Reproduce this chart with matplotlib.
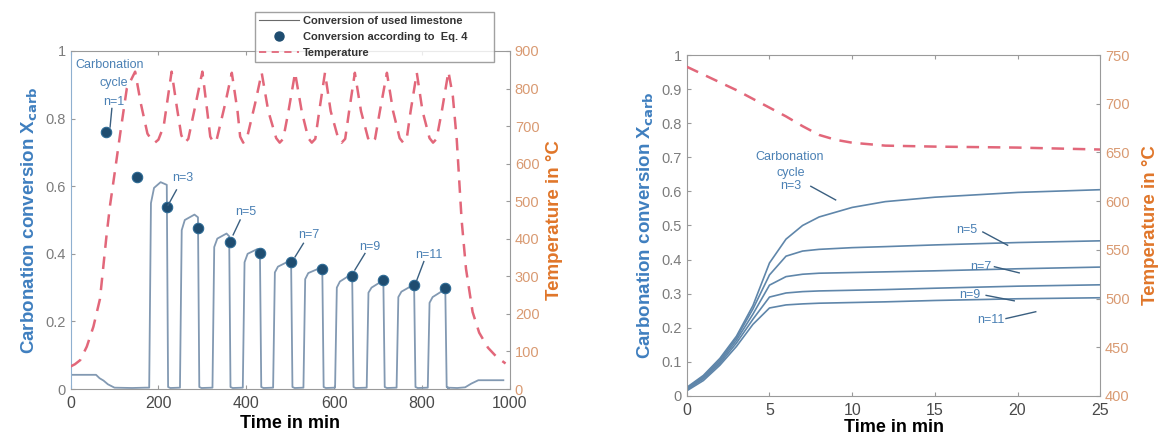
import matplotlib
matplotlib.use("Agg")
import matplotlib.pyplot as plt
from matplotlib.lines import Line2D

plt.rcParams["font.family"] = ["Liberation Sans", "DejaVu Sans"]

BLUE_LBL = "#3f7fbf"
ORANGE_LBL = "#e0762a"
TICK_GRAY = "#7c7c7c"
LINE_C = "#8299b2"
LINE_C2 = "#5f86aa"
DOT_C = "#1f4d70"
TEMP_C = "#e2677a"

# ---------------- left panel data ----------------
# conversion before the first visible cycle and after the last one
pre_t = [0, 58, 66, 75, 85, 100, 140, 170]
pre_v = [0.042, 0.042, 0.032, 0.025, 0.014, 0.004, 0.003, 0.004]
post_t = [858, 880, 898, 912, 928, 985]
post_v = [0.004, 0.003, 0.005, 0.016, 0.026, 0.026]

# carbonation cycles: rise start, steep rise, rounded shoulder, top, end of cycle
cyc_start = [179, 249, 323, 392, 461, 530, 602, 674, 742, 813]
cyc_knee_t = [183, 253, 327, 396, 465, 534, 606, 678, 746, 817]
cyc_knee_v = [0.55, 0.47, 0.42, 0.375, 0.345, 0.325, 0.30, 0.285, 0.272, 0.255]
cyc_sh_t = [190, 260, 334, 403, 472, 541, 613, 685, 753, 824]
cyc_sh_v = [0.595, 0.50, 0.445, 0.40, 0.362, 0.343, 0.318, 0.30, 0.288, 0.272]
cyc_top_t = [205, 282, 355, 425, 495, 566, 636, 706, 776, 846]
cyc_top_v = [0.612, 0.516, 0.46, 0.414, 0.377, 0.357, 0.337, 0.317, 0.305, 0.29]
cyc_end = [219, 290, 361, 431, 502, 573, 641, 712, 782, 853]

# conversion according to Eq. 4
eq4_t = [81, 151, 219, 291, 363, 431, 502, 572, 641, 712, 782, 852]
eq4_v = [0.759, 0.626, 0.538, 0.477, 0.436, 0.401, 0.377, 0.355, 0.335, 0.322, 0.308, 0.298]

# temperature program
temp_t = [0, 10, 22, 37, 52, 67, 82, 90, 101, 113, 128, 147,
          160, 175, 184, 192, 200, 212, 230,
          242, 252, 260, 268, 285, 300,
          310, 318, 325, 333, 352, 367,
          380, 386, 393, 401, 420, 435,
          450, 468, 476, 484, 496, 511,
          526, 541, 549, 557, 566, 579,
          592, 609, 617, 625, 634, 647,
          661, 677, 685, 693, 704, 720,
          734, 749, 757, 765, 774, 788,
          801, 817, 825, 833, 845, 860,
          870, 879, 890, 900, 915, 930, 950, 970, 990]
temp_v = [60, 66, 77, 113, 166, 240, 410, 490, 580, 680, 800, 845,
          760, 680, 664, 656, 664, 700, 845,
          750, 676, 656, 666, 760, 845,
          750, 672, 656, 666, 760, 842,
          740, 672, 656, 666, 760, 842,
          740, 668, 656, 666, 740, 842,
          740, 668, 656, 666, 740, 842,
          740, 668, 656, 666, 740, 842,
          740, 668, 656, 666, 740, 842,
          740, 668, 656, 666, 740, 842,
          740, 668, 656, 666, 740, 845,
          780, 663, 450, 320, 205, 150, 110, 85, 68]

# ---------------- right panel data ----------------
r_t = [0, 1, 2, 3, 4, 5, 6, 7, 8, 10, 12, 15, 20, 25]
conv_n3 = [0.025, 0.06, 0.11, 0.175, 0.265, 0.39, 0.46, 0.50, 0.525, 0.553, 0.57, 0.583, 0.597, 0.605]
conv_n5 = [0.022, 0.057, 0.105, 0.17, 0.255, 0.355, 0.41, 0.425, 0.43, 0.435, 0.438, 0.443, 0.45, 0.455]
conv_n7 = [0.02, 0.053, 0.1, 0.163, 0.24, 0.325, 0.35, 0.357, 0.36, 0.362, 0.364, 0.367, 0.373, 0.378]
conv_n9 = [0.018, 0.05, 0.095, 0.155, 0.225, 0.29, 0.302, 0.306, 0.308, 0.31, 0.312, 0.316, 0.322, 0.326]
conv_n11 = [0.015, 0.045, 0.09, 0.145, 0.21, 0.258, 0.267, 0.27, 0.272, 0.274, 0.276, 0.28, 0.285, 0.288]
r_temp_t = [0, 1, 2, 3, 4, 5, 6, 7, 8, 9, 10, 12, 15, 20, 25]
r_temp_v = [738, 730, 722, 714, 705, 696, 687, 677, 668, 663, 660, 657, 656, 655, 653]

# build left conversion line from the cycle readings
conv_t = list(pre_t)
conv_v = list(pre_v)
for i in range(len(cyc_start)):
    conv_t += [cyc_start[i], cyc_knee_t[i], cyc_sh_t[i], cyc_top_t[i],
               cyc_end[i], cyc_end[i] + 3, cyc_end[i] + 8]
    conv_v += [0.004, cyc_knee_v[i], cyc_sh_v[i], cyc_top_v[i],
               cyc_top_v[i] - 0.008, 0.006, 0.003]
conv_t += post_t
conv_v += post_v


def style_axes(ax, twin, left_color, right_color):
    for s in ["top", "bottom"]:
        ax.spines[s].set_color("#9a9a9a")
    ax.spines["left"].set_color(left_color)
    ax.spines["right"].set_color("#9a9a9a")
    ax.tick_params(direction="in", length=3, width=0.8, colors="#9a9a9a",
                   labelcolor=TICK_GRAY, labelsize=10.5, top=True)
    ax.tick_params(axis="x", labelcolor="#4a4a4a", labelsize=11.5, pad=5)
    twin.tick_params(direction="in", length=3, width=0.8, colors="#9a9a9a",
                     labelcolor=right_color, labelsize=10.5)
    for s in twin.spines.values():
        s.set_visible(False)


fig = plt.figure(figsize=(11.68, 4.37), dpi=100)

# ---------------- left panel ----------------
ax1 = fig.add_axes([0.0604, 0.1098, 0.3762, 0.7735])
ax2 = ax1.twinx()
ax1.plot(conv_t, conv_v, color=LINE_C, lw=1.3)
ax1.plot(eq4_t, eq4_v, "o", color=DOT_C, ms=7.5, mec="#2d6a94", mew=0.8)
ax2.plot(temp_t, temp_v, color=TEMP_C, lw=1.8, dashes=(5, 3.5))
ax1.set_xlim(0, 1000)
ax1.set_ylim(0, 1)
ax2.set_ylim(0, 900)
ax1.set_xticks([0, 200, 400, 600, 800, 1000])
ax1.set_yticks([0, 0.2, 0.4, 0.6, 0.8, 1])
ax1.set_yticklabels(["0", "0.2", "0.4", "0.6", "0.8", "1"])
ax2.set_yticks(range(0, 901, 100))
style_axes(ax1, ax2, "#8fb0d0", "#d99a72")
ax1.set_xlabel("Time in min", fontsize=13, fontweight="bold", labelpad=3)
ax1.set_ylabel("Carbonation conversion X$_{\\mathbf{carb}}$", fontsize=13.5,
               fontweight="bold", color=BLUE_LBL, labelpad=4)
ax2.set_ylabel("Temperature in °C", fontsize=13.5, fontweight="bold",
               color=ORANGE_LBL, labelpad=5)

ann_kw = dict(color="#4a80b4", fontsize=9, ha="center", va="center")
ax1.text(88, 0.96, "Carbonation", **ann_kw)
ax1.text(98, 0.905, "cycle", **ann_kw)
ax1.text(98, 0.85, "n=1", **ann_kw)
left_lbl = ["n=3", "n=5", "n=7", "n=9", "n=11"]
left_lbl_xy = [(255, 0.623), (399, 0.525), (543, 0.456), (680, 0.421), (816, 0.396)]
left_ptr = [((241, 0.589), (222, 0.544)), ((386, 0.50), (370, 0.456)),
            ((530, 0.431), (511, 0.391)), ((670, 0.401), (647, 0.352)),
            ((804, 0.377), (788, 0.322))]
for lbl, (x, y) in zip(left_lbl, left_lbl_xy):
    ax1.text(x, y, lbl, **ann_kw)
ax1.plot([94, 90], [0.83, 0.775], color="#3a5f80", lw=1)
for (p0, p1) in left_ptr:
    ax1.plot([p0[0], p1[0]], [p0[1], p1[1]], color="#3a5f80", lw=1)

# legend
handles = [Line2D([], [], color="#6a6a6a", lw=0.8),
           Line2D([], [], marker="o", ls="", color=DOT_C, ms=6.5),
           Line2D([], [], color=TEMP_C, lw=1.3, dashes=(4, 3))]
labels = ["Conversion of used limestone",
          "Conversion according to  Eq. 4\u2003\u2003", "Temperature"]
leg = fig.legend(handles, labels, loc="upper left", bbox_to_anchor=(0.218, 0.972),
                 fontsize=8, frameon=True, fancybox=False, borderpad=0.35,
                 labelspacing=0.55, handlelength=3.6, handletextpad=0.4,
                 borderaxespad=0)
leg.get_frame().set_edgecolor("#8a8a8a")
leg.get_frame().set_linewidth(1.0)
for t in leg.get_texts():
    t.set_fontweight("bold")
    t.set_color("#333333")

# ---------------- right panel ----------------
ax3 = fig.add_axes([0.588, 0.094, 0.354, 0.780])
ax4 = ax3.twinx()
for vals in [conv_n3, conv_n5, conv_n7, conv_n9, conv_n11]:
    ax3.plot(r_t, vals, color=LINE_C2, lw=1.2)
ax4.plot(r_temp_t, r_temp_v, color=TEMP_C, lw=1.8, dashes=(5, 3.5))
ax3.set_xlim(0, 25)
ax3.set_ylim(0, 1)
ax4.set_ylim(400, 750)
ax3.set_xticks([0, 5, 10, 15, 20, 25])
ax3.set_yticks([i / 10 for i in range(11)])
ax3.set_yticklabels(["0", "0.1", "0.2", "0.3", "0.4", "0.5", "0.6", "0.7", "0.8", "0.9", "1"])
ax4.set_yticks(range(400, 751, 50))
style_axes(ax3, ax4, "#9a9a9a", "#d99a72")
ax3.set_xlabel("Time in min", fontsize=13, fontweight="bold", labelpad=1)
ax3.set_ylabel("Carbonation conversion X$_{\\mathbf{carb}}$", fontsize=13.5,
               fontweight="bold", color=BLUE_LBL, labelpad=4)
ax4.set_ylabel("Temperature in °C", fontsize=13.5, fontweight="bold",
               color=ORANGE_LBL, labelpad=9)

rann_kw = dict(color="#4a80b4", fontsize=9, ha="center", va="center")
ax3.text(6.2, 0.70, "Carbonation", **rann_kw)
ax3.text(6.3, 0.655, "cycle", **rann_kw)
ax3.text(6.3, 0.615, "n=3", **rann_kw)
right_lbl = ["n=5", "n=7", "n=9", "n=11"]
right_lbl_xy = [(16.9, 0.486), (17.8, 0.379), (17.1, 0.295), (18.4, 0.222)]
right_ptr = [((7.5, 0.615), (9.0, 0.575)), ((17.9, 0.481), (19.4, 0.442)),
             ((18.6, 0.379), (20.1, 0.361)), ((18.1, 0.295), (19.8, 0.279)),
             ((19.3, 0.227), (21.1, 0.247))]
for lbl, (x, y) in zip(right_lbl, right_lbl_xy):
    ax3.text(x, y, lbl, **rann_kw)
for (p0, p1) in right_ptr:
    ax3.plot([p0[0], p1[0]], [p0[1], p1[1]], color="#3a5f80", lw=1)

fig.savefig("out.png", dpi=100)
